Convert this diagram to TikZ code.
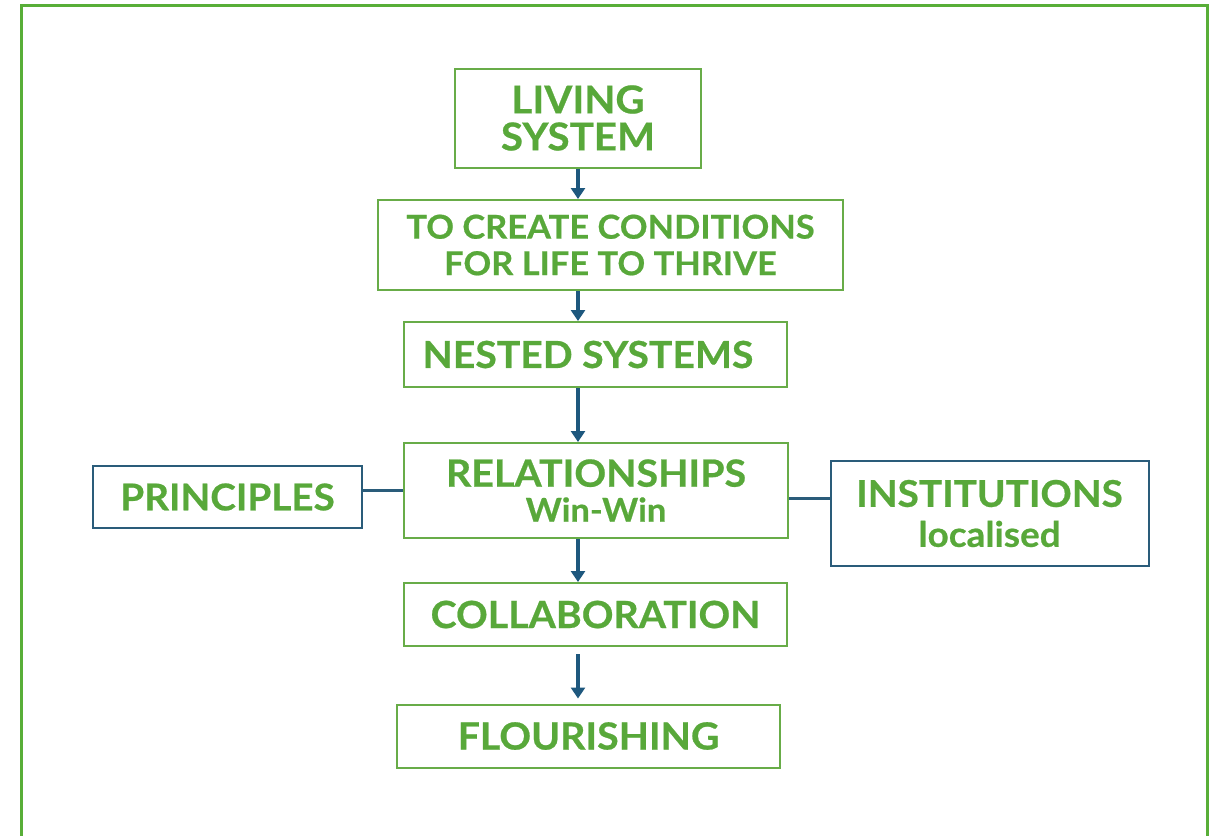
\documentclass[tikz,border=0pt]{standalone}
\usepackage{fontspec}
\setmainfont{Lato}[FakeStretch=1.05, BoldFeatures={FakeBold=0.6}]
\usetikzlibrary{arrows.meta,calc}
\definecolor{txtgreen}{RGB}{88,168,58}
\definecolor{boxgreen}{RGB}{104,172,72}
\definecolor{framegreen}{RGB}{88,174,56}
\definecolor{arrblue}{RGB}{30,88,126}
\definecolor{boxblue}{RGB}{42,92,122}
\tikzset{
  gbox/.style={draw=boxgreen, line width=2pt, text=txtgreen, inner sep=0pt, align=center, font=\bfseries},
  bbox/.style={draw=boxblue, line width=2pt, text=txtgreen, inner sep=0pt, align=center, font=\bfseries},
  arr/.style={draw=arrblue, line width=3.5pt, -{Triangle[width=14pt,length=11pt]}},
  link/.style={draw=boxblue, line width=3pt}
}
\begin{document}
\begin{tikzpicture}[x=1pt,y=-1pt]
\useasboundingbox (0,0) rectangle (1217,835);
\draw[framegreen, line width=3pt] (21.5,845) -- (21.5,5.5) -- (1207.5,5.5) -- (1207.5,845);

\node[gbox, minimum width=246pt, minimum height=99pt, font=\bfseries\fontsize{38.4}{37}\selectfont] (living) at (578,118) {LIVING\\SYSTEM};
\node[gbox, minimum width=465pt, minimum height=90pt, font=\bfseries\fontsize{32.8}{36.5}\selectfont] (create) at (610.5,245) {TO CREATE CONDITIONS\\FOR LIFE TO THRIVE};
\node[gbox, minimum width=383pt, minimum height=65pt, font=\bfseries\fontsize{37.3}{40}\selectfont] (nested) at (595.5,354.5) {NESTED SYSTEMS\hspace*{15pt}};
\node[gbox, minimum width=384pt, minimum height=95pt, font=\bfseries\fontsize{37.5}{35}\selectfont] (rel) at (596,490.5) {RELATIONSHIPS\\{\fontsize{32.8}{35}\selectfont Win-Win}};
\node[bbox, minimum width=269pt, minimum height=62pt, font=\bfseries\fontsize{36.8}{38}\selectfont] (princ) at (227.5,497) {PRINCIPLES};
\node[bbox, minimum width=318pt, minimum height=105pt, font=\bfseries\fontsize{36.9}{40}\selectfont] (inst) at (989.5,513.5) {INSTITUTIONS\\{\fontsize{35.1}{40}\selectfont localised}};
\node[gbox, minimum width=383pt, minimum height=63pt, font=\bfseries\fontsize{37.4}{40}\selectfont] (collab) at (595.5,614.5) {COLLABORATION};
\node[gbox, minimum width=383pt, minimum height=63pt, font=\bfseries\fontsize{37.4}{40}\selectfont] (flour) at (588.5,736) {FLOURISHING};

\draw[arr] (living.south) -- (living.south |- create.north);
\draw[arr] (create.south -| living.south) -- (nested.north -| living.south);
\draw[arr] (nested.south -| living.south) -- (rel.north -| living.south);
\draw[arr] (rel.south -| living.south) -- (collab.north -| living.south);
\draw[arr, shorten <=7pt, shorten >=5pt] (collab.south -| living.south) -- (flour.north -| living.south);
\draw[link] (rel.west) -- (rel.west -| princ.east);
\draw[link] ([yshift=-8pt]rel.east) -- ([yshift=-8pt]rel.east -| inst.west);
\end{tikzpicture}
\end{document}
